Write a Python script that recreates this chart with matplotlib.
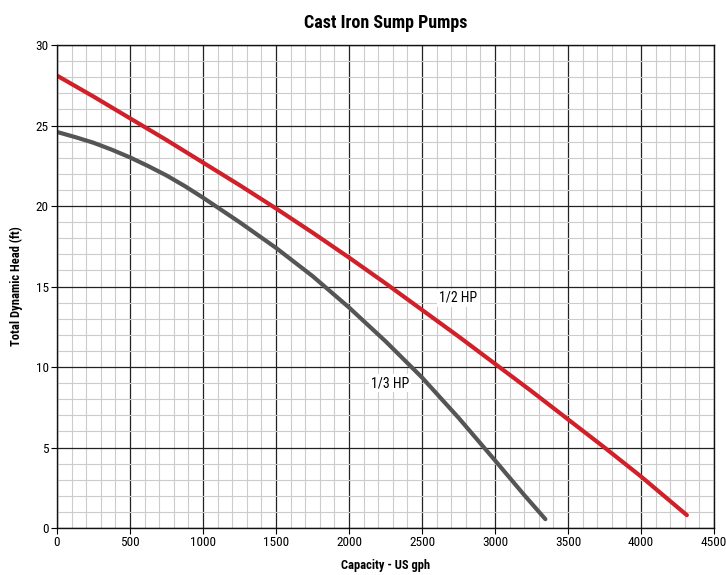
import matplotlib
matplotlib.use("Agg")
from matplotlib import pyplot as plt
import numpy as np

# condensed fonts first if any are there, DejaVu Sans as the fallback
plt.rcParams['font.family'] = ['Liberation Sans Narrow', 'DejaVu Sans Condensed', 'Roboto Condensed', 'DejaVu Sans']

# Pump curves
hp12_gph = [0, 250, 500, 750, 1000, 1250, 1500, 1750, 2000, 2250, 2500,
            2750, 3000, 3250, 3500, 3750, 4000, 4314]
hp12_head = [28.1, 26.8, 25.45, 24.1, 22.7, 21.3, 19.85, 18.35, 16.8, 15.2, 13.55,
             11.9, 10.2, 8.5, 6.75, 5.0, 3.2, 0.8]
hp13_gph = [0, 125, 250, 375, 500, 625, 750, 875, 1000, 1250, 1500, 1750, 2000,
            2250, 2500, 2750, 3000, 3200, 3345]
hp13_head = [24.6, 24.28, 23.93, 23.5, 23.02, 22.48, 21.9, 21.24, 20.52, 19.0, 17.4,
             15.65, 13.7, 11.6, 9.35, 6.85, 4.2, 2.05, 0.55]

fig = plt.figure(figsize=(7.26, 5.75), dpi=100)
ax = fig.add_axes([0.0785, 0.0817, 0.905, 0.8400])

ax.set_xlim(0, 4500)
ax.set_ylim(0, 30)
ax.set_xticks(np.arange(0, 4501, 500))
ax.set_yticks(np.arange(0, 31, 5))
ax.set_xticks(np.arange(0, 4501, 100), minor=True)
ax.set_yticks(np.arange(0, 31, 1), minor=True)
ax.grid(which='minor', color='#cccccc', linewidth=0.8)
ax.grid(which='major', color='#222222', linewidth=0.9)
ax.set_axisbelow(True)
ax.tick_params(which='minor', length=0)
ax.tick_params(which='major', length=4, width=0.8, labelsize=9.5, pad=2)
for s in ax.spines.values():
    s.set_color('#111111')
    s.set_linewidth(1)

ax.plot(hp12_gph, hp12_head, color='#d0202a', linewidth=3,
        solid_capstyle='round', solid_joinstyle='round')
ax.plot(hp13_gph, hp13_head, color='#555555', linewidth=3,
        solid_capstyle='round', solid_joinstyle='round')

ax.text(2750, 14.3, "1/2 HP", fontsize=10, ha='center', va='center',
        bbox=dict(facecolor='white', edgecolor='none', pad=1.5))
ax.text(2280, 9.0, "1/3 HP", fontsize=10, ha='center', va='center',
        bbox=dict(facecolor='white', edgecolor='none', pad=1.5))

ax.set_title("Cast Iron Sump Pumps", fontsize=13, fontweight='bold', pad=12)
ax.set_xlabel("Capacity - US gph", fontsize=9, fontweight='bold', labelpad=7)
ax.set_ylabel("Total Dynamic Head (ft)", fontsize=9, fontweight='bold', labelpad=9)

fig.savefig("out.png", dpi=100)
